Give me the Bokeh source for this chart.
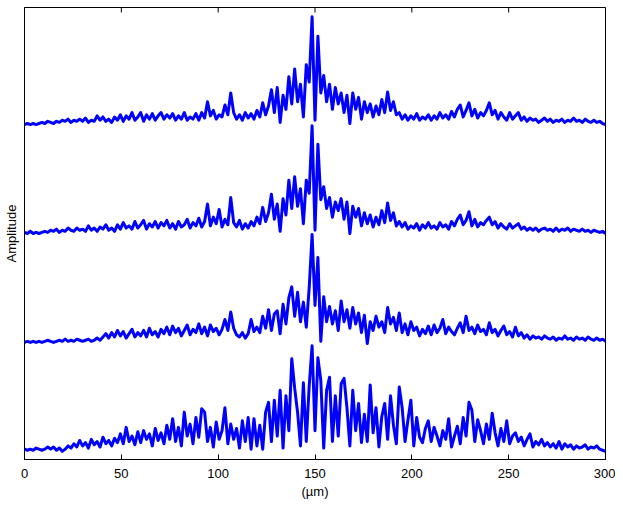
import numpy as np
from bokeh.plotting import figure
from bokeh.models import Range1d, FixedTicker
from bokeh.embed import file_html
from bokeh.resources import INLINE

# sample positions (µm), 1.5 µm step
x_um = np.arange(0, 300.001, 1.5)

# amplitude of each trace (top to bottom)
trace1 = [
    0.01,0.02,0.01,0.02,0.01,0.02,0.03,0.02,0.04,0.03,
    0.02,0.04,0.03,0.05,0.04,0.06,0.03,0.05,0.04,0.06,
    0.04,0.07,0.03,0.05,0.04,0.09,0.05,0.08,0.04,0.06,
    0.03,0.08,0.05,0.10,0.04,0.09,0.06,0.12,0.05,0.08,
    0.12,0.04,0.10,0.06,0.11,0.05,0.09,0.12,0.06,0.10,
    0.07,0.11,0.05,0.09,0.06,0.12,0.05,0.08,0.06,0.11,
    0.05,0.12,0.07,0.22,0.09,0.14,0.06,0.10,0.08,0.19,
    0.10,0.30,0.12,0.06,0.10,0.05,0.12,0.07,0.11,0.06,
    0.14,0.08,0.21,0.10,0.18,0.33,0.12,0.35,0.03,0.28,
    0.15,0.45,0.20,0.52,0.22,0.38,0.08,0.56,0.40,1.00,
    0.05,0.82,0.30,0.46,0.22,0.38,0.15,0.35,0.20,0.30,
    0.12,0.28,0.02,0.30,0.15,0.26,0.06,0.22,0.12,0.20,
    0.08,0.18,0.10,0.24,0.12,0.31,0.14,0.22,0.10,0.12,
    0.06,0.10,0.05,0.09,0.06,0.11,0.05,0.08,0.06,0.10,
    0.05,0.09,0.06,0.12,0.07,0.10,0.06,0.13,0.08,0.15,
    0.19,0.08,0.14,0.21,0.09,0.15,0.07,0.12,0.09,0.14,
    0.21,0.10,0.14,0.06,0.12,0.08,0.05,0.12,0.06,0.09,
    0.12,0.05,0.08,0.04,0.07,0.05,0.06,0.03,0.05,0.07,
    0.04,0.06,0.03,0.05,0.04,0.06,0.03,0.05,0.04,0.07,
    0.04,0.05,0.03,0.06,0.04,0.03,0.05,0.03,0.04,0.02,
    0.01,
]
trace2 = [
    0.02,0.01,0.03,0.01,0.02,0.01,0.02,0.03,0.02,0.04,
    0.03,0.05,0.02,0.04,0.03,0.06,0.04,0.03,0.06,0.04,
    0.05,0.03,0.08,0.04,0.06,0.03,0.07,0.05,0.09,0.04,
    0.06,0.03,0.09,0.05,0.11,0.06,0.08,0.05,0.12,0.06,
    0.09,0.13,0.05,0.10,0.07,0.12,0.06,0.11,0.08,0.13,
    0.06,0.10,0.05,0.12,0.07,0.09,0.14,0.06,0.11,0.08,
    0.15,0.07,0.12,0.28,0.08,0.16,0.10,0.23,0.07,0.14,
    0.09,0.34,0.11,0.07,0.13,0.05,0.10,0.06,0.12,0.08,
    0.16,0.10,0.25,0.12,0.20,0.37,0.14,0.28,0.03,0.33,
    0.18,0.50,0.24,0.53,0.26,0.42,0.10,0.50,0.38,1.00,
    0.04,0.83,0.32,0.44,0.24,0.34,0.16,0.30,0.22,0.33,
    0.14,0.30,0.01,0.26,0.16,0.24,0.08,0.20,0.10,0.18,
    0.07,0.16,0.09,0.22,0.11,0.29,0.13,0.20,0.08,0.12,
    0.07,0.11,0.05,0.08,0.06,0.10,0.04,0.09,0.06,0.11,
    0.06,0.08,0.05,0.11,0.07,0.09,0.05,0.12,0.08,0.14,
    0.18,0.09,0.13,0.21,0.08,0.14,0.07,0.11,0.09,0.13,
    0.16,0.09,0.12,0.06,0.10,0.07,0.05,0.10,0.06,0.08,
    0.10,0.05,0.07,0.04,0.06,0.04,0.06,0.03,0.05,0.06,
    0.04,0.05,0.03,0.06,0.03,0.05,0.04,0.06,0.03,0.05,
    0.04,0.03,0.05,0.03,0.04,0.02,0.04,0.03,0.02,0.03,
    0.01,
]
trace3 = [
    0.01,0.02,0.01,0.02,0.01,0.02,0.01,0.02,0.03,0.02,
    0.01,0.02,0.03,0.02,0.04,0.02,0.03,0.02,0.04,0.03,
    0.02,0.03,0.04,0.02,0.03,0.05,0.03,0.06,0.09,0.05,
    0.10,0.06,0.12,0.07,0.11,0.05,0.09,0.13,0.06,0.10,
    0.07,0.12,0.06,0.14,0.08,0.11,0.06,0.13,0.09,0.15,
    0.08,0.16,0.10,0.14,0.07,0.12,0.17,0.08,0.13,0.10,
    0.18,0.09,0.15,0.07,0.17,0.11,0.14,0.08,0.13,0.22,
    0.12,0.29,0.14,0.08,0.06,0.10,0.05,0.09,0.22,0.11,
    0.15,0.10,0.25,0.14,0.31,0.12,0.27,0.30,0.09,0.36,
    0.18,0.42,0.52,0.25,0.47,0.20,0.38,0.15,0.51,1.00,
    0.35,0.79,0.02,0.43,0.20,0.34,0.18,0.30,0.12,0.39,
    0.20,0.31,0.14,0.33,0.18,0.28,0.10,0.26,0.00,0.20,
    0.12,0.25,0.15,0.20,0.10,0.33,0.18,0.24,0.12,0.28,
    0.10,0.18,0.08,0.20,0.12,0.15,0.07,0.13,0.09,0.16,
    0.08,0.17,0.10,0.14,0.22,0.09,0.15,0.11,0.08,0.14,
    0.19,0.10,0.25,0.12,0.15,0.09,0.17,0.11,0.13,0.08,
    0.19,0.10,0.13,0.07,0.12,0.16,0.08,0.11,0.06,0.15,
    0.07,0.10,0.05,0.08,0.04,0.07,0.05,0.06,0.04,0.07,
    0.05,0.04,0.06,0.03,0.05,0.04,0.07,0.04,0.05,0.03,
    0.06,0.04,0.05,0.03,0.06,0.04,0.03,0.05,0.03,0.04,
    0.02,
]
trace4 = [
    0.03,0.02,0.03,0.02,0.04,0.03,0.02,0.03,0.05,0.03,
    0.05,0.02,0.04,0.01,0.03,0.06,0.04,0.08,0.05,0.11,
    0.06,0.09,0.04,0.12,0.07,0.10,0.05,0.14,0.08,0.11,
    0.06,0.13,0.09,0.17,0.08,0.23,0.10,0.15,0.07,0.19,
    0.09,0.20,0.12,0.17,0.06,0.22,0.11,0.18,0.08,0.25,
    0.12,0.31,0.10,0.23,0.06,0.37,0.15,0.26,0.08,0.32,
    0.14,0.40,0.37,0.10,0.23,0.05,0.28,0.12,0.20,0.41,
    0.08,0.26,0.12,0.22,0.04,0.29,0.10,0.32,0.03,0.31,
    0.06,0.25,0.03,0.37,0.46,0.10,0.48,0.15,0.57,0.04,
    0.52,0.20,0.86,0.59,0.37,0.06,0.64,0.10,0.61,0.98,
    0.20,0.87,0.66,0.04,0.57,0.69,0.10,0.52,0.15,0.63,
    0.68,0.41,0.06,0.57,0.20,0.45,0.09,0.35,0.10,0.62,
    0.18,0.41,0.05,0.33,0.45,0.12,0.52,0.25,0.08,0.60,
    0.41,0.10,0.30,0.48,0.06,0.32,0.14,0.09,0.22,0.29,
    0.10,0.23,0.15,0.06,0.20,0.12,0.31,0.05,0.15,0.24,
    0.08,0.32,0.15,0.46,0.39,0.10,0.30,0.20,0.08,0.26,
    0.12,0.36,0.18,0.06,0.22,0.10,0.29,0.08,0.15,0.18,
    0.10,0.14,0.06,0.12,0.17,0.05,0.10,0.07,0.12,0.06,
    0.09,0.05,0.08,0.04,0.10,0.03,0.08,0.05,0.07,0.03,
    0.06,0.04,0.05,0.07,0.03,0.05,0.04,0.06,0.03,0.02,
    0.01,
]
traces = [trace1, trace2, trace3, trace4]
x_ticks = [0, 50, 100, 150, 200, 250, 300]

FONT = "Liberation Sans"
BASE = 0.065   # baseline of the lowest trace
STEP = 1.0     # vertical spacing between traces
Y_MAX = 4.15
FRAME_H = 452
TICK_LEN = 5 * Y_MAX / FRAME_H   # 5 px inward ticks on the top edge

p = figure(width=615, height=504, output_backend="svg", toolbar_location=None,
           x_range=Range1d(0, 300), y_range=Range1d(0, Y_MAX))
p.min_border_left = 24
p.min_border_right = 10
p.min_border_top = 7
p.min_border_bottom = 45
p.grid.visible = False
p.background_fill_color = "white"
p.border_fill_color = "white"
p.outline_line_color = "black"
p.outline_line_width = 1

n = len(traces)
for i, tr in enumerate(traces):
    off = BASE + STEP * (n - 1 - i)
    y = np.asarray(tr) + off
    p.line(x_um, y, line_color="#0000ff", line_width=3, line_join="round")

# inward ticks on the top edge of the box
p.segment(x0=x_ticks, y0=[Y_MAX] * len(x_ticks), x1=x_ticks,
          y1=[Y_MAX - TICK_LEN] * len(x_ticks), line_color="black", line_width=1)

xa = p.xaxis[0]
xa.ticker = FixedTicker(ticks=x_ticks)
xa.major_tick_in = 5
xa.major_tick_out = 0
xa.minor_tick_line_color = None
xa.axis_label = "(µm)"
xa.axis_label_text_font = FONT
xa.axis_label_text_font_style = "normal"
xa.axis_label_text_font_size = "13px"
xa.axis_label_text_color = "black"
xa.axis_label_standoff = 3
xa.major_label_text_font = FONT
xa.major_label_text_font_size = "13px"
xa.major_label_text_color = "black"
xa.major_label_standoff = 9
xa.axis_line_color = "black"
xa.major_tick_line_color = "black"

ya = p.yaxis[0]
ya.ticker = FixedTicker(ticks=[])
ya.major_tick_in = 0
ya.major_tick_out = 0
ya.minor_tick_line_color = None
ya.axis_label = "Amplitude"
ya.axis_label_text_font = FONT
ya.axis_label_text_font_style = "normal"
ya.axis_label_text_font_size = "13px"
ya.axis_label_text_color = "black"
ya.axis_label_standoff = 6
ya.major_label_standoff = 0
ya.axis_line_color = "black"

open("out.html", "w").write(file_html(p, INLINE))
